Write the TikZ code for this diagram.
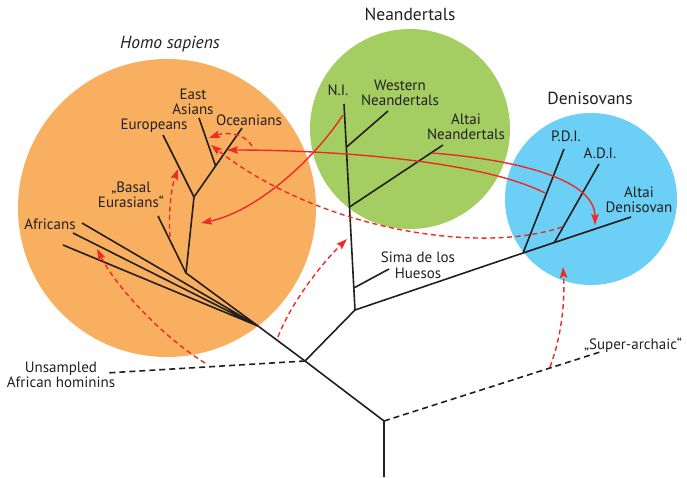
\documentclass[tikz,border=0pt]{standalone}
\usepackage{fontspec}
\setmainfont{PT Sans}
\usetikzlibrary{arrows.meta,calc}
\definecolor{sapiens}{HTML}{F8AF5F}
\definecolor{neand}{HTML}{A4CE62}
\definecolor{deniso}{HTML}{6CCFF6}
\definecolor{flowred}{HTML}{EE2A24}
\definecolor{ink}{HTML}{231F20}
\tikzset{
  lbl/.style = {align=center, inner sep=0pt, text=ink, font=\fontsize{15}{15.5}\selectfont},
  grp/.style = {lbl, font=\fontsize{17.5}{19}\selectfont},
  branch/.style = {draw=ink, line width=1.6pt},
  ghost/.style = {branch, dash pattern=on 6pt off 4pt},
  flow_s/.style = {draw=flowred, line width=1.4pt, -{Stealth[length=11pt,width=7.5pt,inset=2pt]}},
  flow_d/.style = {flow_s, dash pattern=on 5pt off 3.5pt}
}

\begin{document}
\begin{tikzpicture}[x=1pt,y=-1pt]
	\useasboundingbox (0,0) rectangle (687,477);
	% species circles
	\fill[sapiens] (167,208) circle (149pt);
	\fill[neand] (410,129) circle (100pt);
	\fill[deniso] (591,199) circle (86pt);
	\node[grp, font=\fontsize{17.5}{19}\selectfont\itshape] (hs) at (170,44) {Homo sapiens};
	\node[grp] (ne) at (410,14) {Neandertals};
	\node[grp] (de) at (590,98) {Denisovans};

	% tree points
	\coordinate (root) at (384,477);
	\coordinate (R) at (384,421);
	\coordinate (A) at (305,361);
	\coordinate (AF) at (258,326);
	\coordinate (af1) at (82,223);
	\coordinate (af2) at (73,233);
	\coordinate (af3) at (63,245);
	\coordinate (nafr) at (186,273);
	\coordinate (be) at (158,216);
	\coordinate (ooa) at (194,197);
	\coordinate (eu) at (163,135);
	\coordinate (oc) at (242,128);
	\coordinate (eaj) at ($(ooa)!0.45!(oc)$);
	\coordinate (ea) at (199,118);
	\coordinate (N) at (355,310);
	\coordinate (ni) at (344,104);
	\coordinate (shj) at ($(N)!0.107!(ni)$);
	\coordinate (sh) at (389,269);
	\coordinate (anj) at ($(N)!0.5!(ni)$);
	\coordinate (an) at (443,145);
	\coordinate (wnj) at ($(N)!0.79!(ni)$);
	\coordinate (wn) at (388,111);
	\coordinate (D) at (523,253);
	\coordinate (ad) at (631,217);
	\coordinate (pdi) at (564,149);
	\coordinate (adij) at ($(D)!0.29!(ad)$);
	\coordinate (adi) at (599,164);
	\coordinate (ua) at (106,373);
	\coordinate (sa) at (600,352);

	% tree
	\draw[branch] (root) -- (R) -- (A) -- (AF);
	\draw[branch] (AF) -- (af1) (AF) -- (af2) (AF) -- (af3);
	\draw[branch] (AF) -- (nafr) -- (ooa) -- (oc);
	\draw[branch] (nafr) -- (be) (ooa) -- (eu) (eaj) -- (ea);
	\draw[branch] (A) -- (N) -- (ni);
	\draw[branch] (shj) -- (sh) (anj) -- (an) (wnj) -- (wn);
	\draw[branch] (N) -- (D) -- (ad);
	\draw[branch] (D) -- (pdi) (adij) -- (adi);
	\draw[ghost] (A) -- (ua);
	\draw[ghost] (R) -- (sa);

	% labels
	\node[lbl] (l_af) at (50,224) {Africans};
	\node[lbl] (l_be) at (131,195) {„Basal\\Eurasians“};
	\node[lbl] (l_eu) at (154,126) {Europeans};
	\node[lbl] (l_ea) at (193,102) {East\\Asians};
	\node[lbl] (l_oc) at (249,120) {Oceanians};
	\node[lbl] (l_ni) at (338,90) {N.I.};
	\node[lbl] (l_wn) at (400,93) {Western\\Neandertals};
	\node[lbl] (l_an) at (466,127) {Altai\\Neandertals};
	\node[lbl] (l_pdi) at (566,136) {P.D.I.};
	\node[lbl] (l_adi) at (600,153) {A.D.I.};
	\node[lbl] (l_ad) at (639,200) {Altai\\Denisovan};
	\node[lbl] (l_sh) at (418,265) {Sima de los\\Huesos};
	\node[lbl] (l_sa) at (633,345) {„Super-archaic“};
	\node[lbl] (l_ua) at (61,375) {Unsampled\\African hominins};

	% gene flow
	\coordinate (f_ni) at (343,115);
	\coordinate (f_ni2) at (201,223);
	\coordinate (f_pdi) at (545,193);
	\coordinate (f_oc) at (227,150);
	\coordinate (f_an) at (432,153);
	\coordinate (f_ad) at (595,225);
	\coordinate (f_oc2) at (252,146);
	\coordinate (f_ea) at (209,138);
	\coordinate (f_adi) at (562,227);
	\coordinate (f_ea2) at (211,145);
	\coordinate (f_be) at (170,237);
	\coordinate (f_eu) at (178,169);
	\coordinate (f_ua) at (205,363);
	\coordinate (f_af) at (97,249);
	\coordinate (f_ua2) at (278,337);
	\coordinate (f_ne) at (347,239);
	\coordinate (f_sa) at (550,367);
	\coordinate (f_de) at (563,267);
	\draw[flow_s] (f_ni) .. controls (312,162) and (255,212) .. (f_ni2);
	\draw[flow_s] (f_pdi) .. controls (480,160) and (330,150) .. (f_oc);
	\draw[flow_s] (f_an) .. controls (520,160) and (595,180) .. (f_ad);
	\draw[flow_d] (f_oc2) .. controls (245,133) and (225,132) .. (f_ea);
	\draw[flow_d] (f_adi) .. controls (480,255) and (320,230) .. (f_ea2);
	\draw[flow_d] (f_be) .. controls (168,210) and (172,185) .. (f_eu);
	\draw[flow_d] (f_ua) .. controls (160,335) and (115,285) .. (f_af);
	\draw[flow_d] (f_ua2) .. controls (290,305) and (320,265) .. (f_ne);
	\draw[flow_d] (f_sa) .. controls (562,335) and (565,300) .. (f_de);
\end{tikzpicture}
\end{document}
